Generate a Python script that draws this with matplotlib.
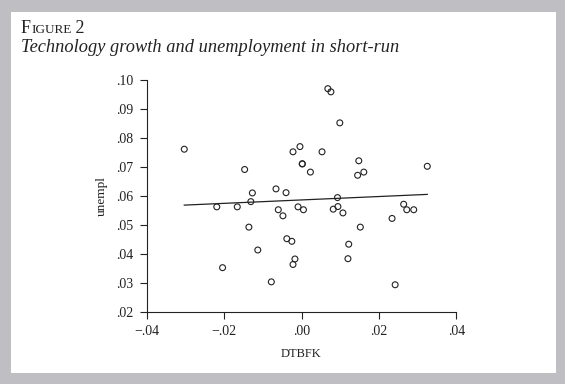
import numpy as np
import matplotlib
matplotlib.use("Agg")
import matplotlib.pyplot as plt
from matplotlib.patches import Rectangle

# data (DTBFK vs unempl)
dtbfk = [-0.0303, -0.0147, -0.0127, -0.0066, -0.0040, -0.0022, -0.0004, 0.0002, 0.0002, 0.0023,
         0.0068, 0.0076, 0.0099, 0.0053, 0.0148, 0.0161, 0.0145, 0.0325, 0.0093,
         -0.0219, -0.0166, -0.0131, -0.0060, -0.0048, -0.0009, 0.0005, -0.0136, -0.0038,
         -0.0025, -0.0113, -0.0017, -0.0022, -0.0204, -0.0078,
         0.0082, 0.0094, 0.0107, 0.0264, 0.0272, 0.0290, 0.0234, 0.0152, 0.0122, 0.0120, 0.0242]
unempl = [0.0761, 0.0691, 0.0610, 0.0624, 0.0611, 0.0752, 0.0770, 0.0711, 0.0710, 0.0682,
          0.0970, 0.0959, 0.0852, 0.0752, 0.0721, 0.0682, 0.0671, 0.0702, 0.0594,
          0.0562, 0.0562, 0.0580, 0.0552, 0.0531, 0.0562, 0.0552, 0.0492, 0.0452,
          0.0443, 0.0413, 0.0382, 0.0363, 0.0352, 0.0303,
          0.0554, 0.0563, 0.0541, 0.0571, 0.0552, 0.0552, 0.0522, 0.0492, 0.0433, 0.0383, 0.0293]

# fitted line end points
fit_x = [-0.0303, 0.0325]
fit_y = [0.0568, 0.0605]

xticks = [-0.04, -0.02, 0.0, 0.02, 0.04]
xlabels = ['\u2212.04', '\u2212.02', '.00', '.02', '.04']
yticks = [0.02, 0.03, 0.04, 0.05, 0.06, 0.07, 0.08, 0.09, 0.10]
ylabels = ['.02', '.03', '.04', '.05', '.06', '.07', '.08', '.09', '.10']

plt.rcParams['font.family'] = ['Liberation Serif', 'DejaVu Serif']
ink = '#222222'

fig = plt.figure(figsize=(5.65, 3.84), dpi=100)
fig.patch.set_facecolor('#bebec3')
# white panel behind everything
fig.patches.append(Rectangle((11 / 565, 1 - 373 / 384), 545 / 565, 361 / 384,
                             transform=fig.transFigure, facecolor='white',
                             edgecolor='none', zorder=-5))

ax = fig.add_axes([0.2597, 0.1883, 0.5479, 0.6034])
ax.set_zorder(2)
ax.set_facecolor('none')
ax.scatter(dtbfk, unempl, s=18, facecolors='none', edgecolors=ink, linewidths=0.8, zorder=3)
ax.plot(fit_x, fit_y, color=ink, linewidth=0.9, zorder=2)

ax.set_xlim(-0.04, 0.04)
ax.set_ylim(0.02, 0.10)
ax.set_xticks(xticks)
ax.set_xticklabels(xlabels)
ax.set_yticks(yticks)
ax.set_yticklabels(ylabels)
ax.tick_params(direction='out', length=5, width=0.8, labelsize=10, colors=ink, pad=4.5)
for s in ['top', 'right']:
    ax.spines[s].set_visible(False)
for s in ['left', 'bottom']:
    ax.spines[s].set_linewidth(0.8)
    ax.spines[s].set_color(ink)

ax.set_xlabel('DTBFK', fontsize=9, color=ink, labelpad=7)
ax.set_ylabel('unempl', fontsize=9.5, color=ink, labelpad=6)

# small-caps "FIGURE 2": place pieces one after another
renderer = fig.canvas.get_renderer()
x0 = 21 / 565
yb = 1 - 33 / 384
for piece, size in [('F', 13), ('IGURE', 9.5), (' 2', 13)]:
    t = fig.text(x0, yb, piece, fontsize=size, color=ink, va='baseline', zorder=5)
    bb = t.get_window_extent(renderer)
    x0 = bb.x1 / fig.bbox.width

fig.text(21 / 565, 1 - 52 / 384, 'Technology growth and unemployment in short-run',
         fontsize=13.2, style='italic', color=ink, va='baseline', zorder=5)

fig.savefig('out.png', dpi=100, facecolor=fig.get_facecolor())
